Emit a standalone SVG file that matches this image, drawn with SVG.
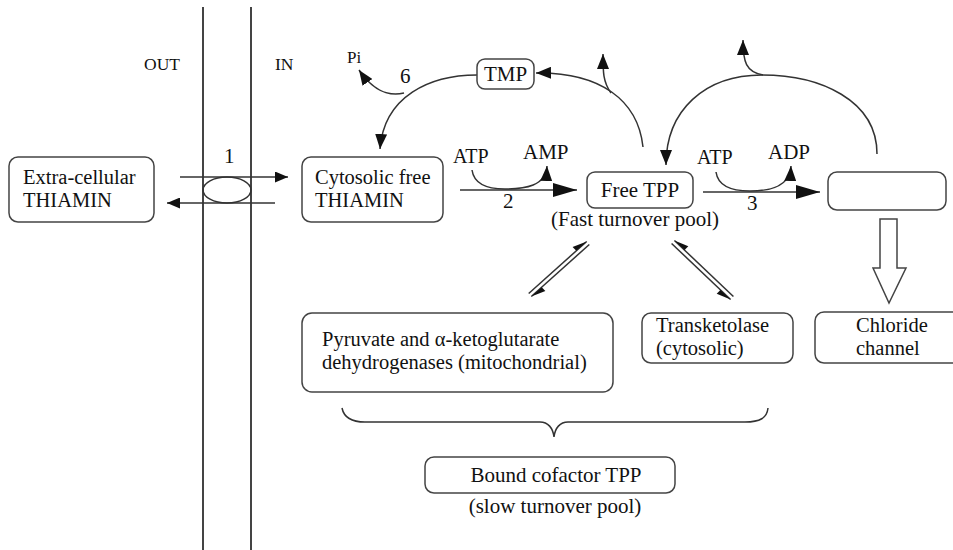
<svg xmlns="http://www.w3.org/2000/svg" width="953" height="550" viewBox="0 0 953 550" font-family="'Liberation Serif', 'Times New Roman', serif">
<style>
text{font-family:"Liberation Serif","Times New Roman",Times,serif;font-size:21px;fill:#111}
.two{font-size:20.5px}
.small{font-size:17.5px}
.atp{font-size:20px}
.pi{font-size:17px}
.box{fill:#fff;stroke:#444;stroke-width:1.5}
.ln{fill:none;stroke:#333;stroke-width:1.5}
.mem{stroke:#444;stroke-width:2}
.hp{fill:#111;stroke:none}
.mid{text-anchor:middle}
</style>
<defs>
<marker id="big" markerUnits="userSpaceOnUse" markerWidth="24" markerHeight="14" viewBox="0 0 24 14" refX="24" refY="7" orient="auto"><path d="M0,0 L24,7 L0,14 z" fill="#111"/></marker>
<marker id="sm" markerUnits="userSpaceOnUse" markerWidth="15" markerHeight="12" viewBox="0 0 15 12" refX="15" refY="6" orient="auto"><path d="M0,0 L15,6 L0,12 z" fill="#111"/></marker>
<marker id="xs" markerUnits="userSpaceOnUse" markerWidth="13" markerHeight="11" viewBox="0 0 13 11" refX="13" refY="5.5" orient="auto"><path d="M0,0 L13,5.5 L0,11 z" fill="#111"/></marker>
</defs>
<rect width="953" height="550" fill="#fff"/>
<g id="membrane">
<line class="mem" x1="203" y1="7" x2="203" y2="550"/>
<line class="mem" x1="251" y1="7" x2="251" y2="550"/>
<text class="small" x="144" y="70">OUT</text>
<text class="small" x="275" y="70">IN</text>
</g>
<g id="connectors">
<ellipse cx="227" cy="190" rx="24" ry="13" fill="none" stroke="#333" stroke-width="1.5"/>
<line class="ln" x1="180" y1="177" x2="288" y2="177" marker-end="url(#xs)"/>
<line class="ln" x1="275" y1="203" x2="167" y2="203" marker-end="url(#xs)"/>
<text x="224" y="163">1</text>
<line class="ln" x1="460" y1="190" x2="577" y2="190" marker-end="url(#big)"/>
<path class="ln" d="M472,170 C474,184 488,189 505,189 C525,189 546,186 547,166" marker-end="url(#sm)"/>
<text class="atp" x="453" y="163">ATP</text>
<text x="523" y="159">AMP</text>
<text x="503" y="208">2</text>
<line class="ln" x1="703" y1="192" x2="820" y2="192" marker-end="url(#big)"/>
<path class="ln" d="M716,172 C718,186 732,191 750,191 C770,191 790,187 791,166" marker-end="url(#sm)"/>
<text class="atp" x="697" y="164">ATP</text>
<text x="768" y="159">ADP</text>
<text x="747" y="210">3</text>
<path class="ln" d="M643,147 C638,100 600,72 536,73" marker-end="url(#sm)"/>
<path class="ln" d="M611,93 C603,82 603,72 603,54" marker-end="url(#sm)"/>
<path class="ln" d="M877,154 C877,100 820,75 762,75 C705,75 666,110 666,165" marker-end="url(#sm)"/>
<path class="ln" d="M763,75 C746,72 743,62 743,40" marker-end="url(#sm)"/>
<path class="ln" d="M477,75 C430,75 384,96 380,149" marker-end="url(#sm)"/>
<path class="ln" d="M404,93 C386,97 372,89 359,70" marker-end="url(#sm)"/>
<text class="pi" x="347" y="63">Pi</text>
<text x="400" y="83">6</text>
<line class="ln" x1="528.7" y1="293.5" x2="586.7" y2="241.5"/>
<line class="ln" x1="531.3" y1="296.5" x2="589.3" y2="244.5"/>
<polygon class="hp" points="586.7,241.5 576.3,250.8 572.6,247"/>
<polygon class="hp" points="531.3,296.5 541.7,287.2 545.4,291"/>
<line class="ln" x1="674.4" y1="240.5" x2="733.4" y2="296.5"/>
<line class="ln" x1="671.6" y1="243.5" x2="730.6" y2="299.5"/>
<polygon class="hp" points="674.4,240.5 684.6,250.1 688.3,246.3"/>
<polygon class="hp" points="730.6,299.5 720.4,289.9 716.7,293.7"/>
<polygon points="880,219 897,219 897,268 906,268 889,303 873,268 880,268" fill="#fff" stroke="#444" stroke-width="1.5"/>
<path class="ln" d="M342,408 C344,418 352,422 365,422 L540,422 C548,422 553,428 554,437 C555,428 560,422 568,422 L745,422 C760,422 767,418 768,408"/>
</g>
<g id="extra-thiamin">
<rect class="box" x="9" y="157" width="145" height="65" rx="9"/>
<text class="two" x="23" y="184">Extra-cellular</text>
<text class="two" x="23" y="207">THIAMIN</text>
</g>
<g id="cyto-thiamin">
<rect class="box" x="302" y="157" width="141" height="65" rx="9"/>
<text class="two" x="315" y="184">Cytosolic free</text>
<text class="two" x="315" y="207">THIAMIN</text>
</g>
<g id="tmp">
<rect class="box" x="477" y="59" width="57" height="30" rx="8"/>
<text class="mid" x="505.5" y="81">TMP</text>
</g>
<g id="free-tpp">
<rect class="box" x="587" y="172" width="106" height="36" rx="8"/>
<text class="mid" x="640" y="197">Free TPP</text>
<text class="mid" x="635" y="226">(Fast turnover pool)</text>
</g>
<g id="empty-box">
<rect class="box" x="828" y="172" width="118" height="38" rx="9"/>
</g>
<g id="pdh">
<rect class="box" x="302" y="313" width="311" height="79" rx="10"/>
<text class="two" x="322" y="346">Pyruvate and α-ketoglutarate</text>
<text class="two" x="322" y="369">dehydrogenases (mitochondrial)</text>
</g>
<g id="transketolase">
<rect class="box" x="642" y="313" width="151" height="50" rx="9"/>
<text class="two" x="656" y="332">Transketolase</text>
<text class="two" x="656" y="355">(cytosolic)</text>
</g>
<g id="chloride">
<rect class="box" x="815" y="312" width="150" height="51" rx="9"/>
<text class="two" x="856" y="332">Chloride</text>
<text class="two" x="856" y="355">channel</text>
</g>
<g id="bound-tpp">
<rect class="box" x="425" y="457" width="250" height="36" rx="9"/>
<text class="mid" x="556" y="482">Bound cofactor TPP</text>
<text class="mid" x="555" y="513">(slow turnover pool)</text>
</g>
</svg>
